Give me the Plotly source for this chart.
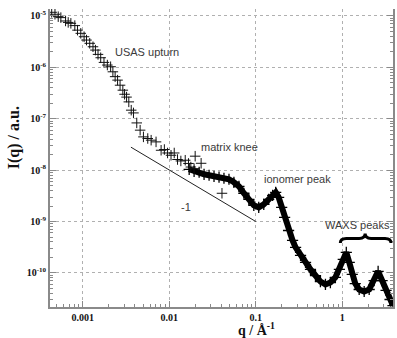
import plotly.graph_objects as go

# ---- data ----
q_sparse = [0.000437, 0.000477, 0.000520, 0.000558, 0.000632, 0.000678, 0.000728, 0.000809,
            0.000869, 0.000948, 0.001035, 0.001104, 0.001203, 0.001312, 0.001400, 0.001500,
            0.001611, 0.001758, 0.001923, 0.002099, 0.002228, 0.002366, 0.002524, 0.002698,
            0.002904, 0.003041, 0.003206, 0.003404, 0.003631, 0.003855, 0.004207, 0.004603,
            0.005024, 0.005637, 0.006166, 0.007031, 0.008041, 0.008770, 0.009550, 0.01047,
            0.01140, 0.01245, 0.01361, 0.01528, 0.01667, 0.01991, 0.01774, 0.01935, 0.02333,
            0.04064]
I_sparse = [1.18e-5, 1.08e-5, 9.7e-6, 9.3e-6, 8.0e-6, 7.5e-6, 7.2e-6, 6.5e-6,
            5.3e-6, 4.6e-6, 3.95e-6, 3.4e-6, 2.94e-6, 2.52e-6, 2.17e-6, 1.79e-6,
            1.54e-6, 1.25e-6, 1.11e-6, 1.03e-6, 8.2e-7, 6.6e-7, 5.65e-7, 4.5e-7,
            3.6e-7, 3.0e-7, 2.64e-7, 2.13e-7, 1.47e-7, 1.30e-7, 8.3e-8, 6.0e-8,
            4.44e-8, 4.13e-8, 3.83e-8, 3.55e-8, 2.44e-8, 2.52e-8, 2.16e-8, 1.95e-8,
            2.16e-8, 1.61e-8, 1.51e-8, 1.56e-8, 1.35e-8, 1.87e-8, 1.15e-8, 1.07e-8, 1.36e-8,
            3.55e-9]

q_dense = [0.01698, 0.01935, 0.02213, 0.02523, 0.02884, 0.03289, 0.03758, 0.04285, 0.04898,
           0.05585, 0.06383, 0.07278, 0.08318, 0.09484, 0.1081, 0.1236, 0.1409, 0.1566,
           0.1698, 0.1836, 0.1991, 0.2153, 0.2393, 0.2661, 0.2884, 0.3289, 0.3758, 0.4285,
           0.4898, 0.5585, 0.6383, 0.7278, 0.8318, 0.9247, 1.026, 1.112, 1.203, 1.303,
           1.411, 1.567, 1.790, 2.044, 2.333, 2.594, 2.884, 3.206, 3.565, 3.855]
I_dense = [1.04e-8, 9.5e-9, 9.1e-9, 8.3e-9, 7.96e-9, 7.6e-9, 7.3e-9, 6.95e-9, 6.65e-9,
           5.8e-9, 4.85e-9, 3.55e-9, 2.71e-9, 2.07e-9, 1.89e-9, 2.16e-9, 2.71e-9, 3.24e-9,
           3.71e-9, 2.96e-9, 1.89e-9, 1.21e-9, 6.7e-10, 4.3e-10, 3.14e-10, 2.19e-10, 1.60e-10, 1.17e-10,
           8.9e-11, 6.8e-11, 5.97e-11, 6.5e-11, 8.2e-11, 1.17e-10, 1.83e-10, 2.51e-10, 1.60e-10, 9.35e-11,
           6.2e-11, 4.76e-11, 4.35e-11, 4.76e-11, 7.1e-11, 1.07e-10, 7.1e-11, 4.56e-11, 3.04e-11, 2.32e-11]

slope_q = [0.0036, 0.1]
slope_I = [2.8e-8, 1.0e-9]

x_tick_vals = [0.001, 0.01, 0.1, 1]
x_tick_text = ["0.001", "0.01", "0.1", "1"]
y_tick_vals = [1e-5, 1e-6, 1e-7, 1e-8, 1e-9, 1e-10]
y_tick_text = ["10<sup>-5</sup>", "10<sup>-6</sup>", "10<sup>-7</sup>",
               "10<sup>-8</sup>", "10<sup>-9</sup>", "10<sup>-10</sup>"]

# ---- layout geometry ----
W, H = 397, 338
ML, MR, MT, MB = 50, 2, 9, 31
PW, PH = W - ML - MR, H - MT - MB


def px(x, y):
    return (x - ML) / PW, (H - MB - y) / PH


x_minor = [m * 10 ** e for e in range(-4, 1) for m in range(2, 10)]
y_minor = [m * 10 ** e for e in range(-11, -4) for m in range(2, 10)]

AX = "#8a8a8a"
serif = "Liberation Serif"
sans = "Liberation Sans"

fig = go.Figure()
fig.add_trace(go.Scatter(x=q_dense, y=I_dense, mode="lines+markers",
                         line=dict(color="black", width=6),
                         marker=dict(symbol="cross-thin", size=8, line=dict(width=1.3, color="black")),
                         showlegend=False))
fig.add_trace(go.Scatter(x=q_sparse, y=I_sparse, mode="markers",
                         marker=dict(symbol="cross-thin", size=7.5, line=dict(width=1, color="#111")),
                         showlegend=False))
fig.add_trace(go.Scatter(x=slope_q, y=slope_I, mode="lines",
                         line=dict(color="#222", width=1), showlegend=False))

common_x = dict(type="log", range=[-3.379, 0.586])
fig.update_layout(
    width=W, height=H,
    margin=dict(l=ML, r=MR, t=MT, b=MB),
    paper_bgcolor="white", plot_bgcolor="white",
    xaxis=dict(**common_x, tickmode="array", tickvals=x_tick_vals, ticktext=x_tick_text,
               ticks="inside", ticklen=6, tickcolor=AX, tickwidth=1,
               minor=dict(ticks="inside", ticklen=3, tickcolor=AX, tickmode="array",
                          tickvals=x_minor, showgrid=False),
               showline=True, linecolor=AX, linewidth=2,
               showgrid=True, gridcolor="#b0b0b0", griddash="dot", gridwidth=1,
               zeroline=False,
               tickfont=dict(family=serif, size=10, color="#111", weight="bold")),
    xaxis2=dict(**common_x, overlaying="x", side="top", anchor="y",
                tickmode="array", tickvals=x_tick_vals, showticklabels=False,
                ticks="inside", ticklen=6, tickcolor="#999",
                minor=dict(ticks="inside", ticklen=3, tickcolor="#999", tickmode="array",
                           tickvals=x_minor, showgrid=False),
                showline=False, showgrid=False, zeroline=False),
    yaxis=dict(type="log", range=[-10.663, -4.864], tickmode="array",
               tickvals=y_tick_vals, ticktext=y_tick_text,
               ticks="inside", ticklen=6, tickcolor=AX, tickwidth=1,
               minor=dict(ticks="inside", ticklen=3, tickcolor=AX, tickmode="array",
                          tickvals=y_minor, showgrid=False),
               showline=True, linecolor=AX, linewidth=2, mirror="ticks",
               showgrid=True, gridcolor="#b0b0b0", griddash="dot", gridwidth=1,
               zeroline=False,
               tickfont=dict(family=serif, size=10, color="#111", weight="bold")),
)

ann_font = dict(family=sans, size=11, color="#3a3a3a")
for text, (cx, cy) in [("USAS upturn", (148, 52)), ("matrix knee", (230.5, 147)),
                       ("ionomer peak", (299, 179)), ("-1", (187, 207)),
                       ("WAXS peaks", (359.5, 225))]:
    x0, y0 = px(cx, cy)
    fig.add_annotation(x=x0, y=y0, xref="paper", yref="paper", text=text,
                       showarrow=False, font=ann_font, xanchor="center", yanchor="middle")

# axis titles
x0, y0 = px(14, 138)
fig.add_annotation(x=x0, y=y0, xref="paper", yref="paper", text="I(q) / a.u.",
                   textangle=-90, showarrow=False, xanchor="center", yanchor="middle",
                   font=dict(family=serif, size=16, color="#111", weight="bold"))
x0, y0 = px(258, 329)
fig.add_annotation(x=x0, y=y0, xref="paper", yref="paper", text="q / Å<sup>-1</sup>",
                   showarrow=False, xanchor="center", yanchor="middle",
                   font=dict(family=serif, size=14, color="#111", weight="bold"))

# curly brace over WAXS peaks
pts = {k: px(*v) for k, v in {
    "a": (342, 243), "b": (342, 238.5), "c": (348, 238.5), "d": (361, 238.5),
    "e": (367, 238.5), "f": (367, 233.5), "g": (367, 238.5), "h": (373, 238.5),
    "i": (387, 238.5), "j": (393, 238.5), "k": (393, 243)}.items()}
P = lambda k: f"{pts[k][0]:.4f},{pts[k][1]:.4f}"
path = (f"M {P('a')} Q {P('b')} {P('c')} L {P('d')} Q {P('e')} {P('f')} "
        f"Q {P('g')} {P('h')} L {P('i')} Q {P('j')} {P('k')}")
fig.add_shape(type="path", path=path, xref="paper", yref="paper",
              line=dict(color="black", width=3))

fig.write_html("out.html", config={"displayModeBar": False},
               post_script="document.body.style.margin='0';document.body.style.padding='0';"
                           "document.documentElement.style.overflow='hidden';")
